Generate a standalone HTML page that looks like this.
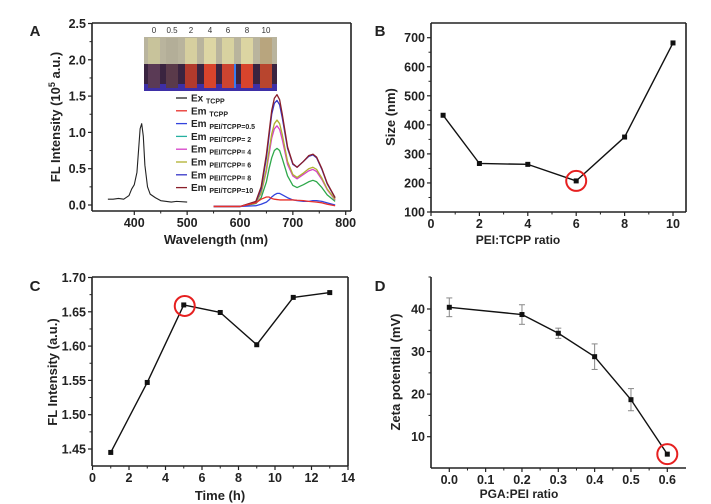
<!DOCTYPE html>
<html><head><meta charset="utf-8"><style>
html,body{margin:0;padding:0;background:#fff;}
svg{display:block;font-family:"Liberation Sans",Arial,sans-serif;font-weight:bold;}
</style></head><body>
<svg id="fig" width="711" height="504" viewBox="0 0 711 504" xmlns="http://www.w3.org/2000/svg"></svg>
<script>
// ---- Panel A data ----
const exWl = [350,360,370,380,390,395,400,405,408,411,414,417,420,425,430,440,450,470,480,500];
const exVal = [0.08,0.08,0.09,0.08,0.13,0.22,0.28,0.45,0.75,1.05,1.12,0.95,0.55,0.25,0.15,0.1,0.06,0.04,0.05,0.04];
const emWl = [550,600,630,640,650,655,660,665,670,675,680,690,700,708,720,730,738,745,755,765,780];
const emTCPP = [-0.02,-0.02,0.03,0.08,0.11,0.11,0.09,0.08,0.075,0.07,0.07,0.07,0.07,0.065,0.06,0.05,0.045,0.04,0.03,0.01,-0.01];
const emR05 = [-0.02,-0.02,-0.01,0.01,0.04,0.07,0.11,0.14,0.16,0.16,0.14,0.1,0.07,0.06,0.05,0.05,0.06,0.06,0.05,0.03,0.0];
const emR2 = [-0.02,-0.02,0.02,0.1,0.32,0.5,0.65,0.75,0.78,0.75,0.64,0.4,0.27,0.24,0.28,0.32,0.34,0.32,0.24,0.14,0.05];
const emR4 = [-0.02,-0.02,0.03,0.16,0.47,0.7,0.92,1.05,1.09,1.04,0.9,0.56,0.4,0.36,0.42,0.47,0.49,0.46,0.35,0.21,0.07];
const emR6 = [-0.02,-0.02,0.03,0.17,0.5,0.75,0.98,1.12,1.17,1.12,0.97,0.6,0.42,0.38,0.44,0.5,0.52,0.49,0.37,0.22,0.08];
const emR8 = [-0.02,-0.02,0.04,0.22,0.65,0.95,1.25,1.40,1.44,1.38,1.2,0.78,0.56,0.52,0.6,0.67,0.69,0.65,0.49,0.29,0.10];
const emR10 = [-0.02,-0.02,0.05,0.25,0.7,1.0,1.3,1.47,1.52,1.45,1.25,0.8,0.57,0.52,0.6,0.68,0.70,0.66,0.5,0.3,0.10];
const aYTicks = [0,0.5,1.0,1.5,2.0,2.5];
const aXTicks = [400,500,600,700,800];
const insetLabels = ["0","0.5","2","4","6","8","10"];
// ---- Panel B ----
const bX = [0.5,2,4,6,8,10];
const bY = [433,267,264,207,358,682];
const bYTicks = [100,200,300,400,500,600,700];
const bXTicks = [0,2,4,6,8,10];
// ---- Panel C ----
const cX = [1,3,5,7,9,11,13];
const cY = [1.445,1.547,1.66,1.649,1.602,1.671,1.678];
const cYTicks = [1.45,1.50,1.55,1.60,1.65,1.70];
const cXTicks = [0,2,4,6,8,10,12,14];
// ---- Panel D ----
const dX = [0.0,0.2,0.3,0.4,0.5,0.6];
const dY = [40.4,38.7,34.3,28.8,18.7,5.9];
const dErr = [2.2,2.3,1.2,3.0,2.6,0];
const dYTicks = [10,20,30,40];
const dXTicks = [0.0,0.1,0.2,0.3,0.4,0.5,0.6];

const NS="http://www.w3.org/2000/svg";
const svg=document.getElementById('fig');
function mk(tag,attrs,parent,text){const e=document.createElementNS(NS,tag);for(const k in attrs)e.setAttribute(k,attrs[k]);if(text!==undefined)e.textContent=text;(parent||svg).appendChild(e);return e;}
function lin(d0,d1,r0,r1){return v=>r0+(v-d0)*(r1-r0)/(d1-d0);}
function fmt(v,dec){return v.toFixed(dec);}

function axes(g,o){
  const fr=mk('g',{},g);
  
  
  mk('line',{x1:o.x0,y1:o.y1,x2:o.x1,y2:o.y1,stroke:'#222','stroke-width':1.6},fr);
  mk('line',{x1:o.x0,y1:o.y0,x2:o.x0,y2:o.y1,stroke:'#222','stroke-width':1.6},fr);
  if(o.box){
    mk('line',{x1:o.x0,y1:o.y0,x2:o.x1,y2:o.y0,stroke:'#222','stroke-width':1.6},fr);
    mk('line',{x1:o.x1,y1:o.y0,x2:o.x1,y2:o.y1,stroke:'#222','stroke-width':1.6},fr);
  }
  const xt=mk('g',{},g);
  
  
  o.xt.forEach((v,i)=>{const x=o.sx(v);
    mk('line',{x1:x,y1:o.y1,x2:x,y2:o.y1+4,stroke:'#222','stroke-width':1.2},xt);
    if(i<o.xt.length-1){const xm=o.sx(v+(o.xt[1]-o.xt[0])/2);mk('line',{x1:xm,y1:o.y1,x2:xm,y2:o.y1+2.5,stroke:'#222','stroke-width':1},xt);}
    const t=mk('text',{x:x,y:o.y1+16,'text-anchor':'middle','font-size':12.5,fill:'#222'},xt,fmt(v,o.xdec));
    
    
  });
  const yt=mk('g',{},g);
  
  
  o.yt.forEach((v,i)=>{const y=o.sy(v);
    mk('line',{x1:o.x0,y1:y,x2:o.x0-4,y2:y,stroke:'#222','stroke-width':1.2},yt);
    if(i<o.yt.length-1){const ym=o.sy(v+(o.yt[1]-o.yt[0])/2);mk('line',{x1:o.x0,y1:ym,x2:o.x0-2.5,y2:ym,stroke:'#222','stroke-width':1},yt);}
    const t=mk('text',{x:o.x0-6,y:y+4.5,'text-anchor':'end','font-size':12.5,fill:'#222'},yt,fmt(v,o.ydec));
    
    
  });
}
function poly(g,xs,ys,sx,sy,color,w,name){
  const p=mk('polyline',{points:xs.map((x,i)=>sx(x)+','+sy(ys[i])).join(' '),fill:'none',stroke:color,'stroke-width':w,'stroke-linejoin':'round'},g);
  
  
  return p;
}
function markers(g,xs,ys,sx,sy){
  xs.forEach((x,i)=>{const r=mk('rect',{x:sx(x)-2.5,y:sy(ys[i])-2.5,width:5,height:5,fill:'#111'},g);
    
    });
}
function label(g,x,y,txt,name,rot,size){
  const t=mk('text',{x:x,y:y,'text-anchor':'middle','font-size':size||13,fill:'#222'},g,txt);
  if(rot)t.setAttribute('transform','rotate(-90 '+x+' '+y+')');
  
  
  return t;
}

// ===== Panel A =====
const gA=mk('g',{});


{
const x0=92,x1=351,y0=23,y1=211;
const sx=lin(400,800,134.3,345.7), sy=lin(0,2.5,205,23.5);
axes(gA,{x0,x1,y0,y1,sx,sy,xt:aXTicks,yt:aYTicks,xdec:0,ydec:1,box:true});
label(gA,35,36,'A','panel-label-a',false,15);
const yl=mk('text',{x:60,y:117,'text-anchor':'middle','font-size':13,fill:'#222',transform:'rotate(-90 60 117)'},gA);


yl.appendChild(document.createTextNode('FL Intensity (10'));
mk('tspan',{'font-size':9,dy:-5},yl,'5');
mk('tspan',{dy:5},yl,' a.u.)');
label(gA,216,244,'Wavelength (nm)','x-axis-title',false,13);
const ins=mk('g',{},gA);


mk('rect',{x:144,y:37,width:133,height:27,fill:'#b9b49d'},ins);
mk('rect',{x:144,y:64,width:133,height:27,fill:'#3a2440'},ins);
mk('rect',{x:144,y:84,width:133,height:7,fill:'#3e2fa6'},ins);
const tubeX=[154,172,191,210,228,247,266];
const tubeTop=['#c8c39b','#b3ae98','#d6cf9f','#ddd6a4','#d8d2a0','#dcd5a2','#b8a57e'];
const tubeBot=['#5a3a55','#5a3a4a','#b23a2c','#d8442c','#cc4430','#d8442c','#b8452e'];
insetLabels.forEach((l,i)=>{
  const t=mk('text',{x:tubeX[i],y:33,'text-anchor':'middle','font-size':8,'font-weight':'normal',fill:'#333'},ins,l);
  
  
  mk('rect',{x:tubeX[i]-6,y:38,width:12,height:26,fill:tubeTop[i]},ins);
  mk('rect',{x:tubeX[i]-6,y:64,width:12,height:24,fill:tubeBot[i]},ins);
});
mk('rect',{x:234,y:64,width:2,height:24,fill:'#3a7cf0'},ins);
poly(gA,exWl,exVal,sx,sy,'#222',1.1,'series-ex-tcpp');
const ems=[[emR2,'#2ea84a','series-em-2'],[emR4,'#d640c8','series-em-4'],[emR6,'#b0b030','series-em-6'],[emR8,'#3535c8','series-em-8'],[emR10,'#8a1f2a','series-em-10'],[emR05,'#3344dd','series-em-0-5'],[emTCPP,'#e8302a','series-em-tcpp']];
ems.forEach(e=>poly(gA,emWl,e[0],sx,sy,e[1],1.3,e[2]));
const leg=[['Ex','TCPP','#222'],['Em','TCPP','#e8302a'],['Em','PEI/TCPP=0.5','#3344dd'],['Em','PEI/TCPP= 2','#26b0a0'],['Em','PEI/TCPP= 4','#d640c8'],['Em','PEI/TCPP= 6','#b0b030'],['Em','PEI/TCPP= 8','#3535c8'],['Em','PEI/TCPP=10','#8a1f2a']];
const lg=mk('g',{},gA);


leg.forEach((l,i)=>{const y=98+i*12.8;
  const ge=mk('g',{},lg);
  
  
  mk('line',{x1:176,y1:y,x2:187,y2:y,stroke:l[2],'stroke-width':1.3},ge);
  const t=mk('text',{x:191,y:y+3.5,'font-size':10,fill:'#222'},ge,l[0]+' ');
  mk('tspan',{'font-size':7,dy:2},t,l[1]);
});
}

// ===== Panel B =====
const gB=mk('g',{});


{
const x0=431,x1=686,y0=23,y1=212;
const sx=lin(0,10,431,673), sy=lin(100,700,212,37.7);
axes(gB,{x0,x1,y0,y1,sx,sy,xt:bXTicks,yt:bYTicks,xdec:0,ydec:0,box:true});
label(gB,380,36,'B','panel-label-b',false,15);
label(gB,395,117,'Size (nm)','y-axis-title',true,13);
label(gB,518,244,'PEI:TCPP ratio','x-axis-title',false,12);
poly(gB,bX,bY,sx,sy,'#111',1.4,'series-size');
markers(gB,bX,bY,sx,sy);
const c=mk('circle',{cx:sx(bX[3]),cy:sy(bY[3]),r:10,fill:'none',stroke:'#e62020','stroke-width':2},gB);


}

// ===== Panel C =====
const gC=mk('g',{});


{
const x0=92,x1=348,y0=277,y1=466;
const sx=lin(0,14,92.5,348), sy=lin(1.45,1.70,449,277.5);
axes(gC,{x0,x1,y0,y1,sx,sy,xt:cXTicks,yt:cYTicks,xdec:0,ydec:2,box:true});
label(gC,35,291,'C','panel-label-c',false,15);
label(gC,57,372,'FL Intensity (a.u.)','y-axis-title',true,13);
label(gC,220,500,'Time (h)','x-axis-title',false,13);
poly(gC,cX,cY,sx,sy,'#111',1.4,'series-fl');
markers(gC,cX,cY,sx,sy);
const c=mk('circle',{cx:sx(cX[2])+1,cy:sy(cY[2])+1,r:10,fill:'none',stroke:'#e62020','stroke-width':2},gC);


}

// ===== Panel D =====
const gD=mk('g',{});


{
const x0=431,x1=686,y0=277,y1=468;
const sx=lin(0,0.6,449.3,667.3), sy=lin(10,40,436.7,309);
axes(gD,{x0,x1,y0,y1,sx,sy,xt:dXTicks,yt:dYTicks,xdec:1,ydec:0,box:false});
mk('line',{x1:x0,y1:y0,x2:x0-2.5,y2:y0,stroke:'#222','stroke-width':1},gD);
label(gD,380,291,'D','panel-label-d',false,15);
label(gD,400,372,'Zeta potential (mV)','y-axis-title',true,13);
label(gD,519,498,'PGA:PEI ratio','x-axis-title',false,12);
dX.forEach((x,i)=>{if(!dErr[i])return;
  const eg=mk('g',{stroke:'#888','stroke-width':1},gD);
  
  
  const px=sx(x),a=sy(dY[i]+dErr[i]),b=sy(dY[i]-dErr[i]);
  mk('line',{x1:px,y1:a,x2:px,y2:b},eg);
  mk('line',{x1:px-3,y1:a,x2:px+3,y2:a},eg);
  mk('line',{x1:px-3,y1:b,x2:px+3,y2:b},eg);
});
poly(gD,dX,dY,sx,sy,'#111',1.4,'series-zeta');
markers(gD,dX,dY,sx,sy);
const c=mk('circle',{cx:sx(dX[5]),cy:sy(dY[5]),r:10,fill:'none',stroke:'#e62020','stroke-width':2},gD);


}
</script>
</body></html>
